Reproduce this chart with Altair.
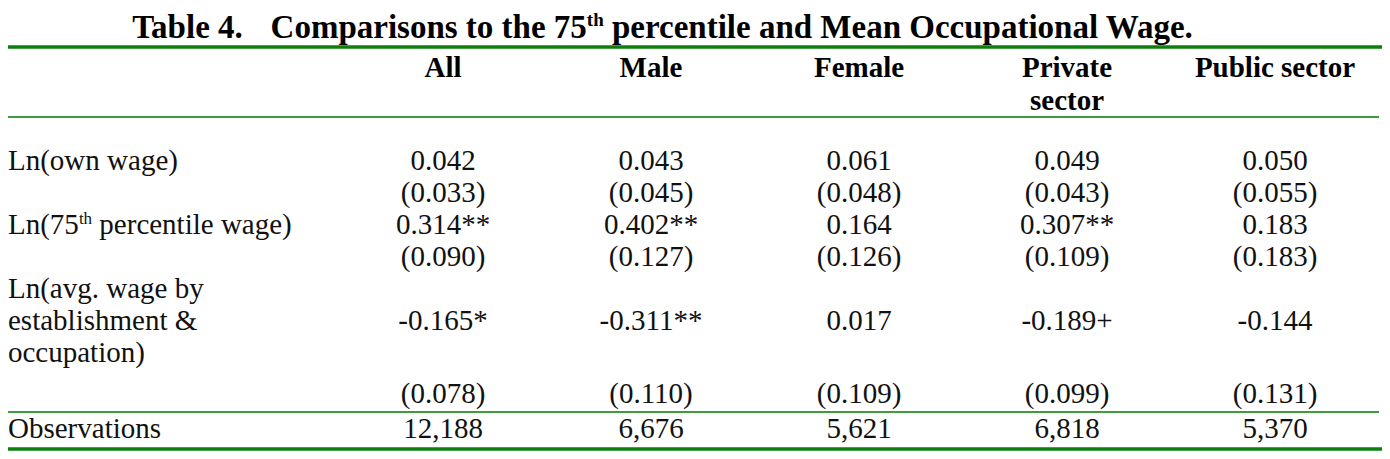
import altair as alt
import pandas as pd

# ---------------- content ----------------
title_a = "Table 4."
title_b = "Comparisons to the 75"
title_sup = "th"
title_c = "percentile and Mean Occupational Wage."

header_line1 = ["All", "Male", "Female", "Private", "Public sector"]
header_line2 = ["", "", "", "sector", ""]

label_own = "Ln(own wage)"
label_p75_a = "Ln(75"
label_p75_sup = "th"
label_p75_b = "percentile wage)"
label_avg = ["Ln(avg. wage by", "establishment &", "occupation)"]
label_obs = "Observations"

coef_own = ["0.042", "0.043", "0.061", "0.049", "0.050"]
se_own = ["(0.033)", "(0.045)", "(0.048)", "(0.043)", "(0.055)"]
coef_p75 = ["0.314**", "0.402**", "0.164", "0.307**", "0.183"]
se_p75 = ["(0.090)", "(0.127)", "(0.126)", "(0.109)", "(0.183)"]
coef_avg = ["-0.165*", "-0.311**", "0.017", "-0.189+", "-0.144"]
se_avg = ["(0.078)", "(0.110)", "(0.109)", "(0.099)", "(0.131)"]
observations = ["12,188", "6,676", "5,621", "6,818", "5,370"]

# ---------------- layout ----------------
W, H = 1374, 443
FONT = "Liberation Serif"
TITLE_SIZE, TITLE_SUP = 33, 19
HEAD_SIZE = 29
BODY_SIZE, BODY_SUP = 29, 17
COL0, STEP = 435, 208
COL_X = [COL0 + i * STEP for i in range(5)]
LABEL_X = 0
TITLE_CENTER = 656

Y_TITLE = 30
Y_HEAD = [69, 102]
Y_BODY = [162, 194, 226, 258, 290, 322, 354, 395]
Y_OBS = 430
LINE_TOP, LINE_HEAD, LINE_BODY, LINE_BOTTOM = 39, 109, 404, 441
DARK_GREEN, MID_GREEN = "#0c7f0c", "#3e9b3e"

REG = {'L': 611, 'n': 500, '(': 333, '7': 500, '5': 500, 't': 278, 'h': 500, ' ': 250}
BOLD = {'T': 667, 'a': 500, 'b': 556, 'l': 278, 'e': 444, ' ': 250, '4': 500, '.': 250,
        'C': 722, 'o': 500, 'm': 833, 'p': 556, 'r': 444, 'i': 278, 's': 389, 'n': 556,
        't': 333, 'h': 556, '7': 500, '5': 500, 'M': 944, 'O': 778, 'c': 444, 'u': 556,
        'd': 556, 'W': 1000, 'g': 500}


def tw(s, table, size):
    return sum(table[ch] for ch in s) / 1000.0 * size


# title pieces (centred as a whole)
sp = tw(" ", BOLD, TITLE_SIZE)
total = (tw(title_a, BOLD, TITLE_SIZE) + 3 * sp + tw(title_b, BOLD, TITLE_SIZE)
         + tw(title_sup, BOLD, TITLE_SUP) + sp + tw(title_c, BOLD, TITLE_SIZE))
ta_x = TITLE_CENTER - total / 2
tb_x = ta_x + tw(title_a, BOLD, TITLE_SIZE) + 3 * sp
tsup_x = tb_x + tw(title_b, BOLD, TITLE_SIZE)
tc_x = tsup_x + tw(title_sup, BOLD, TITLE_SUP) + sp
title_df = pd.DataFrame({"text": [title_a, title_b, title_c],
                         "x": [ta_x, tb_x, tc_x], "y": [Y_TITLE] * 3})
title_sup_df = pd.DataFrame({"text": [title_sup], "x": [tsup_x], "y": [Y_TITLE]})

# headers
head_rows = []
for i in range(5):
    head_rows.append({"text": header_line1[i], "x": COL_X[i], "y": Y_HEAD[0]})
    if header_line2[i]:
        head_rows.append({"text": header_line2[i], "x": COL_X[i], "y": Y_HEAD[1]})
head_df = pd.DataFrame(head_rows)

# body values
value_rows = []
series = [(coef_own, Y_BODY[0]), (se_own, Y_BODY[1]), (coef_p75, Y_BODY[2]), (se_p75, Y_BODY[3]),
          (coef_avg, Y_BODY[5]), (se_avg, Y_BODY[7]), (observations, Y_OBS)]
for vals, y in series:
    for i, v in enumerate(vals):
        value_rows.append({"text": v, "x": COL_X[i], "y": y})
value_df = pd.DataFrame(value_rows)

# row labels
p75_sup_x = LABEL_X + tw(label_p75_a, REG, BODY_SIZE)
p75_b_x = p75_sup_x + tw(label_p75_sup, REG, BODY_SUP) + tw(" ", REG, BODY_SIZE)
label_df = pd.DataFrame({
    "text": [label_own, label_p75_a, label_p75_b] + label_avg + [label_obs],
    "x": [LABEL_X, LABEL_X, p75_b_x, LABEL_X, LABEL_X, LABEL_X, LABEL_X],
    "y": [Y_BODY[0], Y_BODY[2], Y_BODY[2], Y_BODY[4], Y_BODY[5], Y_BODY[6], Y_OBS],
})
label_sup_df = pd.DataFrame({"text": [label_p75_sup], "x": [p75_sup_x], "y": [Y_BODY[2]]})

# rules
rules_df = pd.DataFrame({
    "x": [0, 0, 0, 0],
    "x2": [W, W - 3, W - 3, W],
    "y": [LINE_TOP, LINE_HEAD, LINE_BODY, LINE_BOTTOM],
    "w": [3.5, 2.2, 2.2, 3.5],
    "c": [DARK_GREEN, MID_GREEN, MID_GREEN, DARK_GREEN],
})

XS = alt.Scale(domain=[0, W], nice=False, zero=False)
YS = alt.Scale(domain=[H, 0], nice=False, zero=False)


def text_layer(df, align, size, weight, dy=0, color="#000000"):
    return alt.Chart(df).mark_text(
        align=align, baseline="alphabetic", font=FONT, fontSize=size,
        fontWeight=weight, color=color, dy=dy
    ).encode(
        x=alt.X("x:Q", scale=XS, axis=None),
        y=alt.Y("y:Q", scale=YS, axis=None),
        text="text:N",
    )


rules = alt.Chart(rules_df).mark_rule().encode(
    x=alt.X("x:Q", scale=XS, axis=None),
    x2="x2:Q",
    y=alt.Y("y:Q", scale=YS, axis=None),
    color=alt.Color("c:N", scale=None),
    strokeWidth=alt.StrokeWidth("w:Q", scale=None),
)

chart = alt.layer(
    rules,
    text_layer(title_df, "left", TITLE_SIZE, "bold"),
    text_layer(title_sup_df, "left", TITLE_SUP, "bold", dy=-12),
    text_layer(head_df, "center", HEAD_SIZE, "bold"),
    text_layer(value_df, "center", BODY_SIZE, "normal", color="#111111"),
    text_layer(label_df, "left", BODY_SIZE, "normal", color="#111111"),
    text_layer(label_sup_df, "left", BODY_SUP, "normal", dy=-10, color="#111111"),
).properties(
    width=W, height=H, padding=0, autosize="none", background="white"
).configure_view(stroke=None)

chart.save("out.html", embed_options={"renderer": "svg", "actions": False})
